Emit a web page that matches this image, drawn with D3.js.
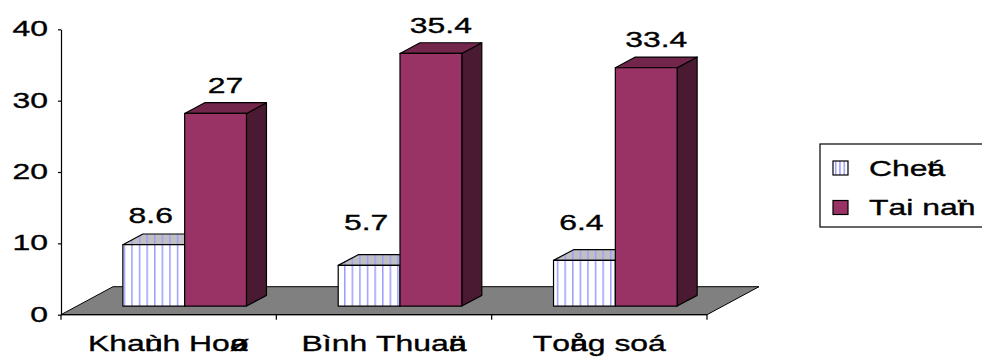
<!DOCTYPE html>
<html>
<head>
<meta charset="utf-8">
<script src="https://cdn.jsdelivr.net/npm/d3@7/dist/d3.min.js"></script>
<style>
  html, body { margin: 0; padding: 0; background: #fff; }
  svg { display: block; }
  text { font-family: "Liberation Sans", Arial, sans-serif; white-space: pre; stroke: #000; stroke-width: 0.35px; }
</style>
</head>
<body>
<svg id="chart" width="982" height="358"></svg>
<script>
// Category and series labels (VNI-encoded Vietnamese, as typed in the source sheet)
const categories = ["Khaùnh Hoøa", "Bình Thuaän", "Toång soá"];
const seriesNames = ["Cheát", "Tai naïn"];
const deaths = [8.6, 5.7, 6.4];
const accidents = [27, 35.4, 33.4];
const yTicks = [0, 10, 20, 30, 40];

// VNI diacritic bytes: the glyph after one of these is drawn on top of it
const MARKS = "ùøäåáïûõâêô";

const W = 982, H = 358;
const FONT = 22, SX = 1.45;           // wide sans glyphs
const floorDepth = [52, -28];         // depth of the floor plane
const barDepth = [20, -10.7];         // depth of each box
const barShift = [(floorDepth[0] - barDepth[0]) / 2, (floorDepth[1] - barDepth[1]) / 2];

const svg = d3.select("#chart");

const y = d3.scaleLinear().domain([0, 40]).range([314.7, 29.3]);
const x = d3.scaleBand().domain(categories).range([61, 707]).paddingInner(0).paddingOuter(0);
const xs = d3.scaleBand().domain(seriesNames).range([0, x.bandwidth()]).paddingInner(0).paddingOuter(0.742);

// stripe pattern for the first series
const defs = svg.append("defs");
function stripes(id, step, bg) {
  const p = defs.append("pattern").attr("id", id).attr("patternUnits", "userSpaceOnUse")
    .attr("width", step).attr("height", 10).attr("x", 2);
  p.append("rect").attr("width", step).attr("height", 10).attr("fill", bg);
  p.append("rect").attr("x", 0).attr("width", 1.5).attr("height", 10).attr("fill", "#9c9cff");
}
stripes("stripeWhite", 7.6, "#ffffff");
stripes("stripeGray", 7.6, "#c0c0c0");
stripes("stripeLegend", 4.3, "#ffffff");

const styles = [
  { front: "url(#stripeWhite)", top: "url(#stripeGray)", side: "#c0c0c0" },
  { front: "#993366", top: "#73264c", side: "#4a1a33" }
];

// floor
const y0 = y(0), xl = x.range()[0], xr = x.range()[1];
svg.append("path")
  .attr("d", d3.line()([[xl, y0], [xl + floorDepth[0], y0 + floorDepth[1]],
                        [xr + floorDepth[0], y0 + floorDepth[1]], [xr, y0]]) + "Z")
  .attr("fill", "#808080").attr("stroke", "#000").attr("stroke-width", 1);

// measure a single glyph's advance
function glyphWidth(c) {
  const t = svg.append("text").attr("font-size", FONT).text(c);
  const w = t.node().getComputedTextLength();
  t.remove();
  return w;
}
function vniText(sel, str) {
  const chars = Array.from(str);
  chars.forEach((c, i) => {
    const ts = sel.append("tspan").text(c);
    if (i > 0 && MARKS.includes(chars[i - 1])) ts.attr("dx", -glyphWidth(chars[i - 1]));
  });
  return sel;
}

// 3D boxes
const seriesData = [deaths, accidents];
categories.forEach((cat, ci) => {
  seriesNames.forEach((s, si) => {
    const v = seriesData[si][ci];
    const st = styles[si];
    const fx0 = x(cat) + xs(s) + barShift[0];
    const fx1 = fx0 + xs.bandwidth();
    const fb = y(0) + barShift[1];
    const ft = y(v) + barShift[1];
    const [dx, dy] = barDepth;
    const g = svg.append("g").attr("stroke", "#000").attr("stroke-width", 1.2).attr("stroke-linejoin", "round");
    g.append("path").attr("d", d3.line()([[fx1, fb], [fx1 + dx, fb + dy], [fx1 + dx, ft + dy], [fx1, ft]]) + "Z")
      .attr("fill", st.side);
    g.append("path").attr("d", d3.line()([[fx0, ft], [fx0 + dx, ft + dy], [fx1 + dx, ft + dy], [fx1, ft]]) + "Z")
      .attr("fill", st.top);
    g.append("rect").attr("x", fx0).attr("y", ft).attr("width", fx1 - fx0).attr("height", fb - ft)
      .attr("fill", st.front);

    // value label
    let lx, ly;
    if (si === 1) { lx = (fx0 + fx1) / 2 + dx / 2; ly = ft - 20.3; }
    else { lx = (fx0 + fx1) / 2 - 3; ly = Math.min(ft - 22, y(0) + barShift[1] - 76); }
    svg.append("text").attr("transform", `translate(${lx},${ly}) scale(${SX},1)`)
      .attr("text-anchor", "middle").attr("font-size", FONT).attr("fill", "#000").text(String(v));
  });
});

// value axis
const yAxis = svg.append("g").attr("transform", `translate(${xl},0)`)
  .call(d3.axisLeft(y).tickValues(yTicks).tickSize(3).tickSizeOuter(0).tickFormat(d3.format("d")));
yAxis.select(".domain").attr("stroke", "#000").attr("stroke-width", 1.2);
yAxis.selectAll(".tick line").attr("stroke", "#000").attr("stroke-width", 1.2);
yAxis.selectAll(".tick text")
  .attr("font-size", FONT).attr("font-family", "Liberation Sans, Arial, sans-serif").attr("fill", "#000")
  .attr("x", -13 / SX).attr("dy", "0.3em").attr("transform", `scale(${SX},1)`);

// category axis: baseline and tick marks at band edges
const edges = categories.map(c => x(c)).concat([xr]);
svg.append("line").attr("x1", xl).attr("x2", xr).attr("y1", y0).attr("y2", y0)
  .attr("stroke", "#000").attr("stroke-width", 1.2);
svg.selectAll(".xtick").data(edges).join("line").attr("class", "xtick")
  .attr("x1", d => d).attr("x2", d => d).attr("y1", y0).attr("y2", y0 + 5)
  .attr("stroke", "#000").attr("stroke-width", 1.2);
categories.forEach(c => {
  const t = svg.append("text")
    .attr("transform", `translate(${x(c) + x.bandwidth() / 2},351) scale(${SX},1)`)
    .attr("text-anchor", "middle").attr("font-size", FONT).attr("fill", "#000");
  vniText(t, c);
});

// legend
const lg = svg.append("g").attr("transform", "translate(820,144)");
lg.append("rect").attr("width", 200).attr("height", 83).attr("fill", "#fff")
  .attr("stroke", "#000").attr("stroke-width", 1.2);
seriesNames.forEach((s, i) => {
  const row = lg.append("g").attr("transform", `translate(0,${17 + i * 39.5})`);
  row.append("rect").attr("x", 13).attr("y", 0).attr("width", 15).attr("height", 14)
    .attr("fill", i === 0 ? "url(#stripeLegend)" : styles[1].front)
    .attr("stroke", "#000").attr("stroke-width", 1.2);
  const t = row.append("text").attr("transform", `translate(49,14.5) scale(${SX},1)`)
    .attr("font-size", FONT).attr("fill", "#000");
  vniText(t, s);
});
</script>
</body>
</html>
